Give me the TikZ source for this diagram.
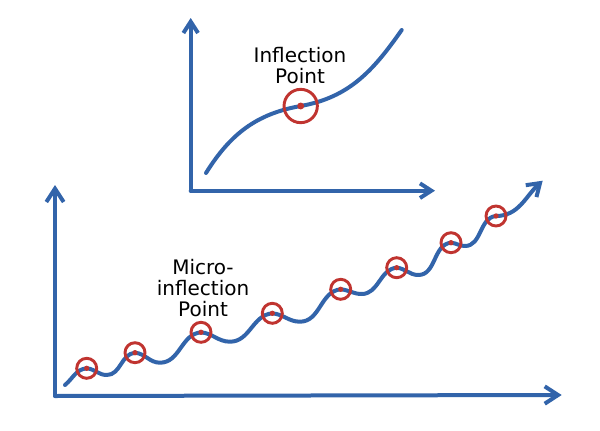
\documentclass[tikz,border=0pt]{standalone}
\usepackage{fontspec}
\setmainfont{DejaVu Sans}
\usetikzlibrary{arrows.meta}
\definecolor{penblue}{RGB}{50,100,170}
\definecolor{penred}{RGB}{192,52,48}
\begin{document}
\begin{tikzpicture}[x=0.75pt,y=0.75pt,
  penline/.style={draw=penblue,line width=3pt,line cap=round,line join=round},
  axis/.style={penline,-{Straight Barb[length=10pt,width=13pt]}},
  smallaxis/.style={penline,-{Straight Barb[length=8.5pt,width=11pt]}},
  ring/.style={circle,draw=penred,line width=2.2pt,inner sep=0pt},
  bigring/.style={ring,minimum size=25pt},
  smallring/.style={ring,minimum size=15pt},
  dot/.style={fill=penred},
  lbl/.style={align=center,text=black,font=\fontsize{15}{15.75}\selectfont}]
\useasboundingbox (0,0) rectangle (600,430);
% ---------- top graph ----------
\coordinate (o1) at (190.7,239.3);
\coordinate (y1) at (190.7,412);
\coordinate (x1) at (435,239.3);
\draw[smallaxis] (o1) -- (y1);
\draw[smallaxis] (o1) -- (x1);
\coordinate (c1s) at (206,257);
\coordinate (ipt) at (300.7,324);
\coordinate (c1e) at (401.7,400);
\draw[penline] (c1s) to[out=58,in=190] (ipt) to[out=10,in=235] (c1e);
\node[bigring] (ipring) at (ipt) {};
\fill[dot] (ipt) circle (2.6pt);
\node[lbl] (iplabel) at (300,364.5) {Inflection\\Point};
% ---------- bottom graph ----------
\coordinate (o2) at (55,34);
\coordinate (y2) at (55,245);
\coordinate (x2) at (561.7,35);
\draw[axis] (o2) -- (y2);
\draw[axis] (o2) -- (x2);
\coordinate (s) at (65,45);
\coordinate (p1) at (86.7,61.7);
\coordinate (t1) at (106.7,55);
\coordinate (p2) at (135,77.3);
\coordinate (t2) at (160,67.3);
\coordinate (p3) at (201,97.7);
\coordinate (t3) at (230,88.3);
\coordinate (p4) at (272.3,116.7);
\coordinate (t4) at (300,108.3);
\coordinate (p5) at (340.7,140.7);
\coordinate (t5) at (361.7,136);
\coordinate (p6) at (396.7,162.3);
\coordinate (t6) at (418.3,155);
\coordinate (p7) at (451,187.3);
\coordinate (t7) at (465,184);
\coordinate (p8) at (496,214);
\coordinate (e) at (542.7,249.3);
\draw[penline,-{Straight Barb[length=9pt,width=12pt]}]
  (s) to[out=40,in=185] (p1) to[out=-5,in=180] (t1)
  to[out=0,in=185] (p2) to[out=-5,in=180] (t2)
  to[out=0,in=185] (p3) to[out=-5,in=180] (t3)
  to[out=0,in=185] (p4) to[out=-5,in=180] (t4)
  to[out=0,in=185] (p5) to[out=-5,in=180] (t5)
  to[out=0,in=185] (p6) to[out=-5,in=180] (t6)
  to[out=0,in=185] (p7) to[out=-5,in=180] (t7)
  to[out=0,in=185] (p8) to[out=0,in=222] (e);
\foreach \p in {p1,p2,p3,p4,p5,p6,p7,p8}{
  \node[smallring] (r\p) at (\p) {};
  \fill[dot] (\p) circle (2pt);
}
\node[lbl] (milabel) at (203,142) {Micro-\\inflection\\Point};
\end{tikzpicture}
\end{document}
